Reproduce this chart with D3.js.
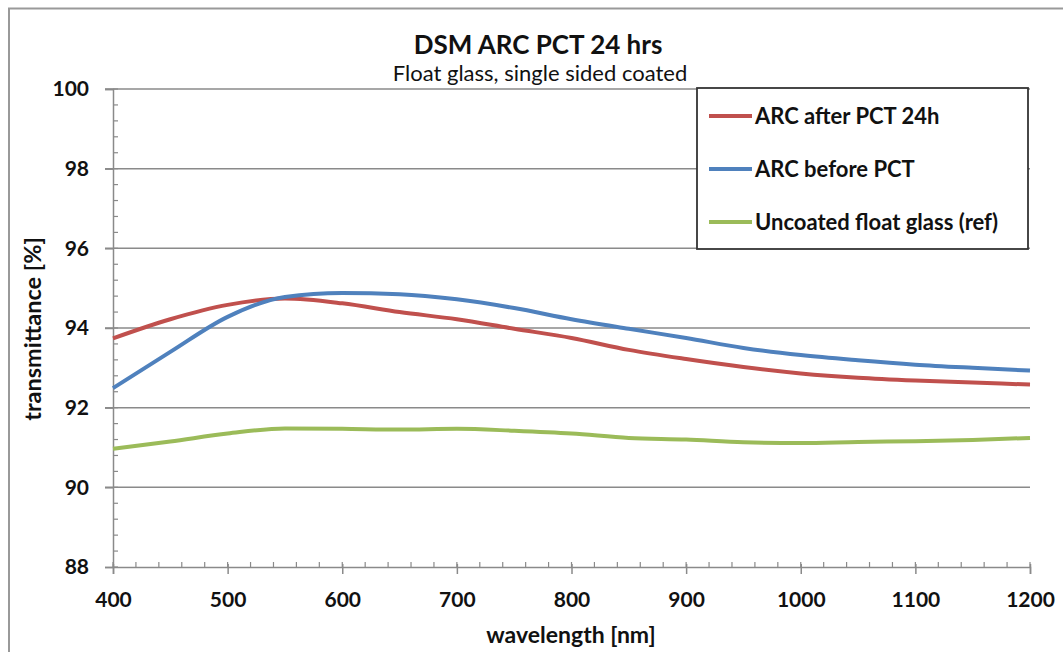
<!DOCTYPE html>
<html>
<head>
<meta charset="utf-8">
<script src="https://d3js.org/d3.v7.min.js"></script>
<style>
  body { margin: 0; background: #fff; }
  text { font-family: Lato, "Open Sans", sans-serif; fill: #111; }
</style>
</head>
<body>
<svg width="1063" height="652"></svg>
<script>
// wavelength samples (nm) and transmittance (%)
var wavelengths = [400, 450, 500, 550, 600, 650, 700, 750, 800, 850, 900, 950, 1000, 1050, 1100, 1150, 1200];
var afterPct  = [93.74, 94.22, 94.58, 94.74, 94.62, 94.40, 94.22, 93.98, 93.75, 93.45, 93.22, 93.02, 92.86, 92.75, 92.68, 92.63, 92.58];
var beforePct = [92.49, 93.40, 94.28, 94.78, 94.88, 94.85, 94.72, 94.50, 94.22, 93.98, 93.75, 93.50, 93.32, 93.19, 93.08, 93.00, 92.93];
var uncoated  = [90.97, 91.15, 91.35, 91.48, 91.47, 91.45, 91.47, 91.42, 91.35, 91.24, 91.20, 91.13, 91.11, 91.14, 91.16, 91.19, 91.24];

var seriesNames  = ["ARC after PCT 24h", "ARC before PCT", "Uncoated float glass (ref)"];
var seriesColors = ["#C0504D", "#4F81BD", "#9BBB59"];
var seriesValues = [afterPct, beforePct, uncoated];

var xTicks = [400, 500, 600, 700, 800, 900, 1000, 1100, 1200];
var yTicks = [88, 90, 92, 94, 96, 98, 100];

var svg = d3.select("svg");
// plot box (avoid the name "top": it clashes with window.top)
var plotL = 113, plotR = 1030, plotT = 89, plotB = 567;

var x = d3.scaleLinear().domain([400, 1200]).range([plotL, plotR]);
var y = d3.scaleLinear().domain([88, 100]).range([plotB, plotT]);

// outer chart frame (only top and left edges are in view)
svg.append("path")
  .attr("d", "M9,652 L9,8.5 L1063,8.5")
  .attr("fill", "none").attr("stroke", "#999").attr("stroke-width", 2);

// gridlines
svg.append("g").selectAll("line")
  .data(yTicks.filter(function(d) { return d > 88; }))
  .enter().append("line")
    .attr("x1", plotL - 8).attr("x2", plotR)
    .attr("y1", function(d) { return y(d); })
    .attr("y2", function(d) { return y(d); })
    .attr("stroke", "#8a8a8a").attr("stroke-width", 1.5);

// y axis: minor ticks inside, major ticks outside
var yMinor = d3.range(88, 100.01, 0.4);
svg.append("g").selectAll("line")
  .data(yMinor)
  .enter().append("line")
    .attr("x1", plotL).attr("x2", plotL + 5)
    .attr("y1", function(d) { return y(d); })
    .attr("y2", function(d) { return y(d); })
    .attr("stroke", "#8a8a8a").attr("stroke-width", 1.2);

var yAxis = d3.axisLeft(y).tickValues(yTicks).tickSize(8).tickPadding(16).tickFormat(d3.format("d"));
var gy = svg.append("g").attr("transform", "translate(" + plotL + ",0)").call(yAxis);
gy.select(".domain").attr("stroke", "#8a8a8a").attr("stroke-width", 1.5);
gy.selectAll(".tick line").attr("stroke", "#8a8a8a").attr("stroke-width", 1.5);
gy.selectAll(".tick text")
  .style("font-family", "Lato, sans-serif").style("font-size", "21px").style("font-weight", "bold").attr("fill", "#111");

// x axis
var xMinor = d3.range(400, 1201, 20);
svg.append("g").selectAll("line")
  .data(xMinor)
  .enter().append("line")
    .attr("x1", function(d) { return x(d); })
    .attr("x2", function(d) { return x(d); })
    .attr("y1", plotB - 5).attr("y2", plotB)
    .attr("stroke", "#8a8a8a").attr("stroke-width", 1.2);

var xAxis = d3.axisBottom(x).tickValues(xTicks).tickSize(7).tickPadding(18).tickFormat(d3.format("d"));
var gx = svg.append("g").attr("transform", "translate(0," + plotB + ")").call(xAxis);
gx.select(".domain").attr("stroke", "#8a8a8a").attr("stroke-width", 1.5);
gx.selectAll(".tick line").attr("y1", -3).attr("stroke", "#8a8a8a").attr("stroke-width", 1.5);
gx.selectAll(".tick text")
  .style("font-family", "Lato, sans-serif").style("font-size", "21px").style("font-weight", "bold").attr("fill", "#111");

// series lines
var line = d3.line()
  .x(function(d) { return x(d[0]); })
  .y(function(d) { return y(d[1]); })
  .curve(d3.curveMonotoneX);

seriesValues.forEach(function(vals, i) {
  svg.append("path")
    .datum(wavelengths.map(function(w, j) { return [w, vals[j]]; }))
    .attr("fill", "none")
    .attr("stroke", seriesColors[i])
    .attr("stroke-width", 4)
    .attr("stroke-linejoin", "round")
    .attr("d", line);
});

// titles
svg.append("text").attr("x", 538).attr("y", 54).attr("text-anchor", "middle")
  .style("font-size", "26px").style("font-weight", "bold").text("DSM ARC PCT 24 hrs");
svg.append("text").attr("x", 540).attr("y", 81).attr("text-anchor", "middle")
  .style("font-size", "22px").text("Float glass, single sided coated");

svg.append("text").attr("x", 571).attr("y", 643).attr("text-anchor", "middle")
  .style("font-size", "23px").style("font-weight", "bold").text("wavelength [nm]");
svg.append("text")
  .attr("transform", "translate(41,329) rotate(-90)")
  .attr("text-anchor", "middle")
  .style("font-size", "23.5px").style("font-weight", "bold").text("transmittance [%]");

// legend
var legend = svg.append("g");
legend.append("rect")
  .attr("x", 697).attr("y", 88).attr("width", 331).attr("height", 161)
  .attr("fill", "#fff").attr("stroke", "#333").attr("stroke-width", 1.8);

var rowY = [116, 169, 222];
seriesNames.forEach(function(name, i) {
  legend.append("line")
    .attr("x1", 709).attr("x2", 752)
    .attr("y1", rowY[i]).attr("y2", rowY[i])
    .attr("stroke", seriesColors[i]).attr("stroke-width", 4);
  legend.append("text")
    .attr("x", 755).attr("y", rowY[i] + 8)
    .style("font-size", "22px").style("font-weight", "bold")
    .text(name);
});
</script>
</body>
</html>
